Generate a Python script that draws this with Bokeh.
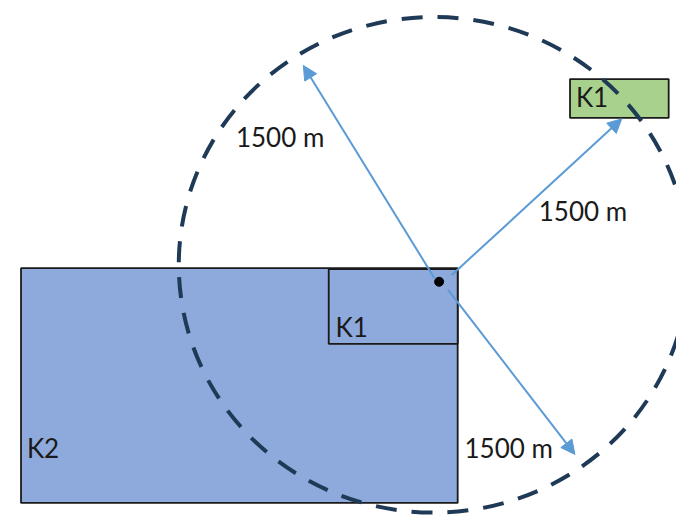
from bokeh.plotting import figure
from bokeh.models import Range1d, Arrow, NormalHead, ColumnDataSource
from bokeh.core.properties import value
from bokeh.embed import file_html
from bokeh.resources import INLINE

# ---- data (diagram coordinates, y grows downward) ----
zone_names = ["K2", "K1"]
zone_left = [21, 336]
zone_right = [468, 468]
zone_top = [276, 277]
zone_bottom = [518, 354]

far_names = ["K1"]
far_left = [583]
far_right = [684]
far_top = [81]
far_bottom = [121]

ring_x = [443.5]
ring_y = [272.5]
ring_w = [522]
ring_h = [511]

point_x = [449]
point_y = [290]

arrow_x0 = [444, 462, 458]
arrow_y0 = [286, 283, 298]
arrow_x1 = [310, 636, 588]
arrow_y1 = [67, 122, 468]

dist_labels = ["1500 m", "1500 m", "1500 m"]
dist_x = [241, 551, 475]
dist_y = [141, 217, 461]

name_labels = ["K1", "K2", "K1"]
name_x = [343, 27, 589]
name_y = [337, 461, 100]

# ---- figure ----
p = figure(width=676, height=515, output_backend="svg", toolbar_location=None,
           x_range=Range1d(0, 692), y_range=Range1d(531, 0), min_border=0)
p.axis.visible = False
p.grid.visible = False
p.outline_line_color = None
p.background_fill_color = "white"
p.border_fill_color = "white"

blue_fill = "#8EA9DB"
green_fill = "#A9D18E"
edge = "#1a1a1a"
navy = "#1F3A56"
arrow_c = "#5B9BD5"

p.quad(left=zone_left, right=zone_right, top=zone_top, bottom=zone_bottom,
       fill_color=blue_fill, line_color=edge, line_width=1.8)
p.quad(left=far_left, right=far_right, top=far_top, bottom=far_bottom,
       fill_color=green_fill, line_color=edge, line_width=1.8)

p.ellipse(x=ring_x, y=ring_y, width=ring_w, height=ring_h, fill_color=None,
          line_color=navy, line_width=4, line_dash="21 15")

src = ColumnDataSource(dict(x0=arrow_x0, y0=arrow_y0, x1=arrow_x1, y1=arrow_y1))
p.add_layout(Arrow(source=src, x_start="x0", y_start="y0", x_end="x1", y_end="y1",
                   line_color=arrow_c, line_width=2,
                   end=NormalHead(size=14, fill_color=arrow_c, line_color=arrow_c)))

p.scatter(x=point_x, y=point_y, size=9, fill_color="black", line_color="black")

p.text(x=dist_x, y=dist_y, text=dist_labels, text_font=value("Lato"),
       text_font_size="26px", text_baseline="middle", text_align="left",
       text_color="#1a1a1a")
p.text(x=name_x, y=name_y, text=name_labels, text_font=value("Lato"),
       text_font_size="26px", text_baseline="middle", text_align="left",
       text_color="#1a1a1a")

open("out.html", "w").write(file_html(p, INLINE))
